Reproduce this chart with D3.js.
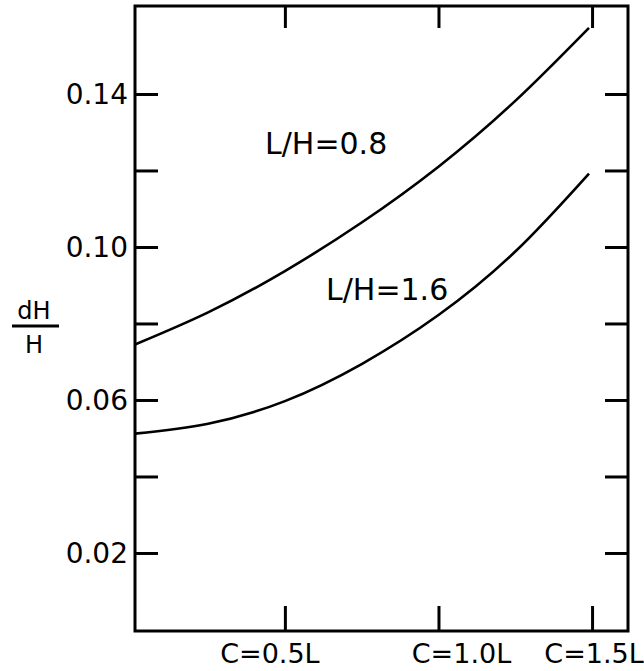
<!DOCTYPE html>
<html>
<head>
<meta charset="utf-8">
<script src="https://cdn.jsdelivr.net/npm/d3@7/dist/d3.min.js"></script>
<style>
  html, body { margin: 0; padding: 0; background: #fff; }
  svg { display: block; }
  text { font-family: "DejaVu Sans", sans-serif; fill: #000; }
</style>
</head>
<body>
<svg id="chart" width="644" height="671"></svg>
<script>
// ---- data ----
const cValues = [0.012, 0.25, 0.5, 0.75, 1.0, 1.25, 1.49];
const curveLH08 = [0.0745, 0.0829, 0.0937, 0.1064, 0.1210, 0.1382, 0.1573];
const curveLH16 = [0.0512, 0.0538, 0.0597, 0.0694, 0.0822, 0.0988, 0.1192];
const seriesLabels = ["L/H=0.8", "L/H=1.6"];
const xTickValues = [0.5, 1.0, 1.5];
const xTickLabels = ["C=0.5L", "C=1.0L", "C=1.5L"];
const yTickValues = [0.02, 0.04, 0.06, 0.08, 0.10, 0.12, 0.14];
const yLabelValues = [0.02, 0.06, 0.10, 0.14];
const yLabelText = ["0.02", "0.06", "0.10", "0.14"];

// ---- layout ----
const L = 135, R = 628, T = 6, B = 631;
const svg = d3.select("#chart");
const x = d3.scaleLinear().domain([0.012, 1.617]).range([L, R]);
const y = d3.scaleLinear().domain([-0.0004, 0.163]).range([B, T]);

// frame
svg.append("rect")
  .attr("x", L).attr("y", T).attr("width", R - L).attr("height", B - T)
  .attr("fill", "none").attr("stroke", "#000").attr("stroke-width", 3);

// axes with inward ticks
const tickLen = 23;
const yLeft = d3.axisLeft(y).tickValues(yTickValues).tickSize(-tickLen).tickFormat("");
const yRight = d3.axisRight(y).tickValues(yTickValues).tickSize(-tickLen).tickFormat("");
const xBottom = d3.axisBottom(x).tickValues(xTickValues).tickSize(-25).tickFormat("");
const xTop = d3.axisTop(x).tickValues(xTickValues).tickSize(-22).tickFormat("");

function styleAxis(g) {
  g.select(".domain").remove();
  g.selectAll(".tick line").attr("stroke", "#000").attr("stroke-width", 3);
}
svg.append("g").attr("transform", `translate(${L},0)`).call(yLeft).call(styleAxis);
svg.append("g").attr("transform", `translate(${R},0)`).call(yRight).call(styleAxis);
svg.append("g").attr("transform", `translate(0,${B})`).call(xBottom).call(styleAxis);
svg.append("g").attr("transform", `translate(0,${T})`).call(xTop).call(styleAxis);

// y tick labels
svg.append("g").selectAll("text")
  .data(yLabelValues)
  .join("text")
  .attr("x", L - 7)
  .attr("y", d => y(d))
  .attr("dy", "0.36em")
  .attr("text-anchor", "end")
  .attr("font-size", 28)
  .text((d, i) => yLabelText[i]);

// x tick labels (hand-placed offsets)
const xLabelShift = [-15, 23, 2];
svg.append("g").selectAll("text")
  .data(xTickValues)
  .join("text")
  .attr("x", (d, i) => x(d) + xLabelShift[i])
  .attr("y", 663)
  .attr("text-anchor", "middle")
  .attr("font-size", 27)
  .text((d, i) => xTickLabels[i]);

// y axis title dH / H
svg.append("text").attr("x", 34).attr("y", 319).attr("text-anchor", "middle")
  .attr("font-size", 24).text("dH");
svg.append("line").attr("x1", 12).attr("x2", 59).attr("y1", 326).attr("y2", 326)
  .attr("stroke", "#000").attr("stroke-width", 3);
svg.append("text").attr("x", 34).attr("y", 353).attr("text-anchor", "middle")
  .attr("font-size", 24).text("H");

// curves
const line = d3.line()
  .x((d, i) => x(cValues[i]))
  .y(d => y(d))
  .curve(d3.curveNatural);
[curveLH08, curveLH16].forEach(s => {
  svg.append("path").attr("d", line(s))
    .attr("fill", "none").attr("stroke", "#000").attr("stroke-width", 2.6);
});

// series labels
svg.append("text").attr("x", 265).attr("y", 154).attr("font-size", 30).text(seriesLabels[0]);
svg.append("text").attr("x", 326).attr("y", 300).attr("font-size", 30).text(seriesLabels[1]);
</script>
</body>
</html>
